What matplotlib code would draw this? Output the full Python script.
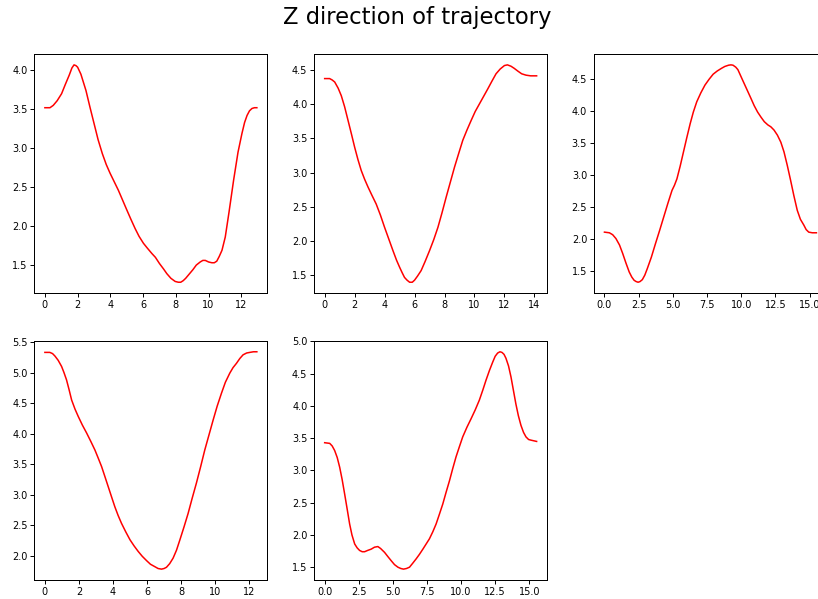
import matplotlib
matplotlib.use("Agg")
import matplotlib.pyplot as plt
from matplotlib.ticker import MultipleLocator

# z coordinate of each trajectory, sampled along time
t1 = [0, 0.31, 0.51, 0.75, 1.02, 1.25, 1.49, 1.65, 1.78, 1.9, 2.0, 2.2, 2.51, 2.75,
      3.0, 3.25, 3.51, 3.75, 3.98, 4.49, 5.0, 5.25, 5.51, 5.75, 6.02, 6.25, 6.53,
      6.75, 7.0, 7.25, 7.45, 7.7, 7.96, 8.15, 8.3, 8.45, 8.6, 8.8, 9.04, 9.25, 9.49,
      9.65, 9.8, 10.0, 10.2, 10.35, 10.5, 10.65, 10.82, 11.02, 11.25, 11.53, 11.8,
      12.04, 12.2, 12.35, 12.5, 12.65, 12.8, 12.95]
z1 = [3.52, 3.52, 3.55, 3.61, 3.70, 3.82, 3.94, 4.03, 4.07, 4.06, 4.04, 3.95, 3.74, 3.53,
      3.32, 3.11, 2.93, 2.79, 2.68, 2.46, 2.21, 2.09, 1.97, 1.87, 1.78, 1.72, 1.65,
      1.60, 1.52, 1.45, 1.39, 1.33, 1.29, 1.28, 1.28, 1.30, 1.33, 1.38, 1.44, 1.50, 1.54,
      1.56, 1.56, 1.54, 1.53, 1.53, 1.55, 1.61, 1.69, 1.86, 2.18, 2.59, 2.95,
      3.19, 3.33, 3.42, 3.48, 3.51, 3.52, 3.52]

t2 = [0, 0.33, 0.5, 0.67, 0.9, 1.11, 1.33, 1.56, 1.8, 2.0, 2.22, 2.44, 2.67, 2.89,
      3.15, 3.44, 3.72, 4.0, 4.28, 4.56, 4.8, 5.0, 5.17, 5.33, 5.5, 5.67, 5.85, 6.0,
      6.2, 6.44, 6.7, 7.0, 7.28, 7.56, 7.83, 8.11, 8.39, 8.67, 8.95, 9.22, 9.5, 9.78,
      10.05, 10.33, 10.61, 10.89, 11.16, 11.44, 11.72, 12.0, 12.2, 12.44, 12.65, 12.89,
      13.15, 13.44, 13.75, 14.15]
z2 = [4.37, 4.37, 4.35, 4.32, 4.23, 4.12, 3.96, 3.76, 3.55, 3.37, 3.19, 3.03, 2.90, 2.79,
      2.67, 2.54, 2.38, 2.20, 2.03, 1.86, 1.72, 1.62, 1.54, 1.47, 1.43, 1.40, 1.40, 1.43,
      1.49, 1.57, 1.70, 1.86, 2.02, 2.20, 2.41, 2.64, 2.86, 3.08, 3.28, 3.47, 3.62, 3.76,
      3.89, 4.00, 4.11, 4.22, 4.33, 4.44, 4.51, 4.56, 4.57, 4.55, 4.52, 4.48,
      4.44, 4.42, 4.41, 4.41]

t3 = [0, 0.36, 0.6, 0.84, 1.1, 1.33, 1.57, 1.81, 2.0, 2.17, 2.32, 2.46, 2.6, 2.77,
      2.95, 3.13, 3.43, 3.73, 4.04, 4.34, 4.64, 4.94, 5.12, 5.3, 5.54, 5.78, 6.02,
      6.27, 6.5, 6.75, 7.05, 7.35, 7.65, 7.95, 8.25, 8.55, 8.8, 9.08, 9.25, 9.4, 9.6,
      9.76, 9.95, 10.12, 10.42, 10.72, 10.95, 11.2, 11.45, 11.69, 11.95, 12.17, 12.4,
      12.65, 12.9, 13.13, 13.37, 13.61, 13.85, 14.1, 14.33, 14.58, 14.75, 14.94, 15.2,
      15.5]
z3 = [2.11, 2.10, 2.07, 2.01, 1.91, 1.78, 1.63, 1.49, 1.41, 1.36, 1.34, 1.33, 1.34, 1.37,
      1.44, 1.54, 1.72, 1.93, 2.14, 2.35, 2.56, 2.76, 2.84, 2.94, 3.14, 3.36, 3.58,
      3.80, 3.98, 4.14, 4.28, 4.40, 4.49, 4.57, 4.62, 4.66, 4.69, 4.71, 4.715, 4.71, 4.68,
      4.64, 4.55, 4.47, 4.33, 4.19, 4.08, 3.98, 3.90, 3.83, 3.78, 3.75, 3.70,
      3.62, 3.51, 3.36, 3.15, 2.92, 2.68, 2.45, 2.31, 2.22, 2.15, 2.11, 2.10,
      2.10]

t4 = [0, 0.29, 0.45, 0.59, 0.78, 0.98, 1.12, 1.27, 1.42, 1.57, 1.77, 1.96, 2.2, 2.45,
      2.7, 2.94, 3.13, 3.33, 3.52, 3.72, 3.92, 4.11, 4.3, 4.5, 4.75, 5.0, 5.24, 5.48,
      5.72, 5.97, 6.2, 6.46, 6.65, 6.85, 7.0, 7.14, 7.33, 7.53, 7.73, 7.93, 8.17, 8.41,
      8.65, 8.9, 9.15, 9.39, 9.64, 9.88, 10.12, 10.37, 10.6, 10.86, 11.05, 11.25,
      11.45, 11.64, 11.85, 12.04, 12.25, 12.45]
z4 = [5.33, 5.33, 5.31, 5.27, 5.20, 5.10, 5.00, 4.88, 4.72, 4.55, 4.40, 4.28, 4.14, 4.01,
      3.87, 3.73, 3.60, 3.46, 3.30, 3.13, 2.96, 2.80, 2.66, 2.53, 2.39, 2.26, 2.16, 2.07,
      1.99, 1.92, 1.86, 1.82, 1.79, 1.78, 1.79, 1.81, 1.87, 1.96, 2.09, 2.26, 2.47, 2.69,
      2.94, 3.19, 3.46, 3.73, 3.98, 4.22, 4.45, 4.66, 4.84, 4.99, 5.08, 5.15,
      5.23, 5.29, 5.32, 5.33, 5.34, 5.34]

t5 = [0, 0.37, 0.55, 0.73, 0.92, 1.1, 1.28, 1.46, 1.65, 1.83, 2.0, 2.2, 2.38, 2.56,
      2.75, 2.93, 3.15, 3.41, 3.65, 3.9, 4.1, 4.39, 4.65, 4.88, 5.12, 5.37, 5.58, 5.78,
      6.0, 6.22, 6.45, 6.71, 6.95, 7.2, 7.44, 7.68, 7.93, 8.17, 8.41, 8.66, 8.9, 9.15,
      9.39, 9.63, 9.88, 10.12, 10.43, 10.73, 11.04, 11.34, 11.6, 11.83, 12.08, 12.32,
      12.5, 12.68, 12.85, 13.0, 13.15, 13.29, 13.48, 13.66, 13.84, 14.02, 14.2, 14.39,
      14.58, 14.76, 14.95, 15.12, 15.54]
z5 = [3.43, 3.42, 3.38, 3.31, 3.20, 3.05, 2.86, 2.64, 2.40, 2.17, 2.00, 1.86, 1.80, 1.76,
      1.74, 1.74, 1.76, 1.78, 1.81, 1.82, 1.79, 1.73, 1.66, 1.60, 1.54, 1.50, 1.48, 1.47,
      1.48, 1.50, 1.56, 1.63, 1.70, 1.78, 1.86, 1.94, 2.05, 2.17, 2.32, 2.48, 2.66, 2.84,
      3.03, 3.21, 3.37, 3.52, 3.67, 3.80, 3.94, 4.09, 4.25, 4.40, 4.55, 4.68,
      4.77, 4.82, 4.84, 4.83, 4.80, 4.74, 4.62, 4.45, 4.24, 4.03, 3.85, 3.70,
      3.59, 3.52, 3.48, 3.47, 3.45]

series = [(t1, z1), (t2, z2), (t3, z3), (t4, z4), (t5, z5)]
x_steps = [2, 2, 2.5, 2, 2.5]

W, H = 818, 599
fig = plt.figure(figsize=(W / 100, H / 100), dpi=100)
axes = fig.subplots(2, 3)
# grid runs a bit past the right edge, third column is cut off
fig.subplots_adjust(left=34.3 / W, right=827 / W, bottom=1 - 580 / H, top=1 - 54 / H,
                    wspace=0.2, hspace=0.2)

for ax, (t, z), step in zip(axes.flat, series, x_steps):
    ax.plot(t, z, color="red", linewidth=1.1)
    ax.xaxis.set_major_locator(MultipleLocator(step))
    ax.yaxis.set_major_locator(MultipleLocator(0.5))
    ax.tick_params(labelsize=7, length=2.6, width=0.7, pad=2.2)
    for sp in ax.spines.values():
        sp.set_linewidth(0.72)

axes[1, 2].axis("off")

fig.text(417.5 / W, 1 - 24 / H, "Z direction of trajectory", fontsize=16.3,
         ha="center", va="baseline")

fig.savefig("out.png", dpi=100)
